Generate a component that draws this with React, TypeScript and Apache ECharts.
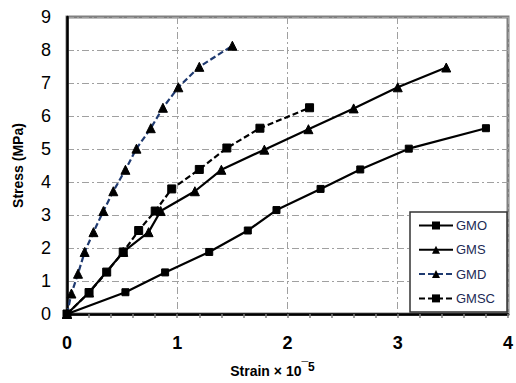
import React, { useEffect, useRef } from "react";
import * as echarts from "echarts";

const seriesNames = ["GMO", "GMS", "GMD", "GMSC"];

const gmoStrain = [0, 0.53, 0.89, 1.29, 1.64, 1.90, 2.30, 2.66, 3.10, 3.80];
const gmoStress = [0, 0.66, 1.26, 1.88, 2.53, 3.15, 3.79, 4.38, 5.01, 5.63];

const gmsStrain = [0, 0.20, 0.51, 0.74, 0.85, 1.16, 1.40, 1.79, 2.19, 2.60, 3.00, 3.44];
const gmsStress = [0, 0.65, 1.88, 2.48, 3.12, 3.72, 4.37, 4.98, 5.60, 6.23, 6.87, 7.47];

const gmdStrain = [0, 0.04, 0.10, 0.16, 0.24, 0.33, 0.42, 0.53, 0.63, 0.76, 0.87, 1.01, 1.20, 1.50];
const gmdStress = [0, 0.62, 1.22, 1.88, 2.48, 3.12, 3.72, 4.37, 5.01, 5.63, 6.25, 6.87, 7.49, 8.13];

const gmscStrain = [0, 0.20, 0.36, 0.51, 0.65, 0.80, 0.95, 1.20, 1.45, 1.75, 2.20];
const gmscStress = [0, 0.65, 1.27, 1.88, 2.53, 3.12, 3.79, 4.38, 5.03, 5.63, 6.25];

const xTicks = [0, 1, 2, 3, 4];
const yTicks = [0, 1, 2, 3, 4, 5, 6, 7, 8, 9];

const zip = (xs: number[], ys: number[]) => xs.map((x, i) => [x, ys[i]]);

export default function App() {
  const ref = useRef<HTMLDivElement>(null);
  useEffect(() => {
    if (!ref.current) return;
    const chart = echarts.init(ref.current, null, { renderer: "svg" });
    const font = "Liberation Sans, Arial, sans-serif";
    const gridLine = { show: true, lineStyle: { color: "#a0a0a0", width: 1, type: [7, 3, 2, 3] as any } };
    const mk = (name: string, xs: number[], ys: number[], symbol: string, size: number, color: string, dashed: boolean) => ({
      name,
      type: "line",
      data: zip(xs, ys),
      symbol,
      symbolSize: size,
      showSymbol: true,
      lineStyle: { color, width: 2.2, type: dashed ? [6, 3] : "solid" },
      itemStyle: { color: "#000", borderColor: "#000" },
      z: 3,
    });
    chart.setOption({
      animation: false,
      backgroundColor: "#fff",
      grid: {
        left: 67, top: 17, right: 3, bottom: 63,
        show: true, borderColor: "#808080", borderWidth: 3, backgroundColor: "#fff",
      },
      legend: {
        orient: "vertical",
        left: 410, top: 212,
        padding: [7, 12, 7, 8],
        backgroundColor: "#fff",
        borderColor: "#333",
        borderWidth: 1.5,
        borderRadius: 0,
        itemWidth: 34,
        itemHeight: 10,
        itemGap: 11.3,
        textStyle: { fontFamily: font, fontSize: 13, color: "#1c2a55", padding: [0, 0, 0, -2] },
        data: seriesNames,
      },
      xAxis: [
        {
          type: "value",
          min: 0, max: 4, interval: 1,
          axisLine: { show: true, onZero: false, lineStyle: { color: "#808080", width: 3 } },
          axisTick: { show: true, length: 4, lineStyle: { color: "#808080", width: 1.5 } },
          minorTick: { show: true, splitNumber: 5, length: 4, lineStyle: { color: "#808080", width: 1.5 } },
          axisLabel: {
            fontFamily: font, fontSize: 18, fontWeight: "bold", color: "#000", margin: 20,
            formatter: (v: number) => (xTicks.includes(v) ? String(v) : ""),
          },
          splitLine: gridLine,
          name: "Strain × 10{sup|¯5}",
          nameLocation: "middle",
          nameGap: 47,
          nameTextStyle: {
            fontFamily: font, fontSize: 14, fontWeight: "bold", color: "#000",
            padding: [0, 30, 0, 0],
            rich: { sup: { fontFamily: font, fontSize: 12, fontWeight: "bold", color: "#000", verticalAlign: "top", padding: [0, 0, 8, 0] } },
          },
        },
        {
          type: "value", position: "top", min: 0, max: 4,
          axisLine: { show: true, lineStyle: { color: "#000", width: 2.5 } },
          axisTick: { show: false }, axisLabel: { show: false }, splitLine: { show: false },
        },
      ],
      yAxis: {
        type: "value",
        min: 0, max: 9, interval: 1,
        axisLine: { show: true, onZero: false, lineStyle: { color: "#000", width: 2.5 } },
        axisTick: { show: false },
        axisLabel: {
          fontFamily: font, fontSize: 18, color: "#000", margin: 16,
          formatter: (v: number) => (yTicks.includes(v) ? String(v) : ""),
        },
        splitLine: gridLine,
        name: "Stress (MPa)",
        nameLocation: "middle",
        nameGap: 42,
        nameTextStyle: { fontFamily: font, fontSize: 14, fontWeight: "bold", color: "#000" },
      },
      series: [
        mk("GMO", gmoStrain, gmoStress, "rect", 7, "#000", false),
        mk("GMS", gmsStrain, gmsStress, "triangle", 9, "#000", false),
        mk("GMD", gmdStrain, gmdStress, "triangle", 9, "#1f3a70", true),
        mk("GMSC", gmscStrain, gmscStress, "rect", 8, "#000", true),
      ],
    });
    return () => chart.dispose();
  }, []);
  return <div ref={ref} style={{ width: 516, height: 383, position: "absolute", left: 0, top: 0 }} />;
}
